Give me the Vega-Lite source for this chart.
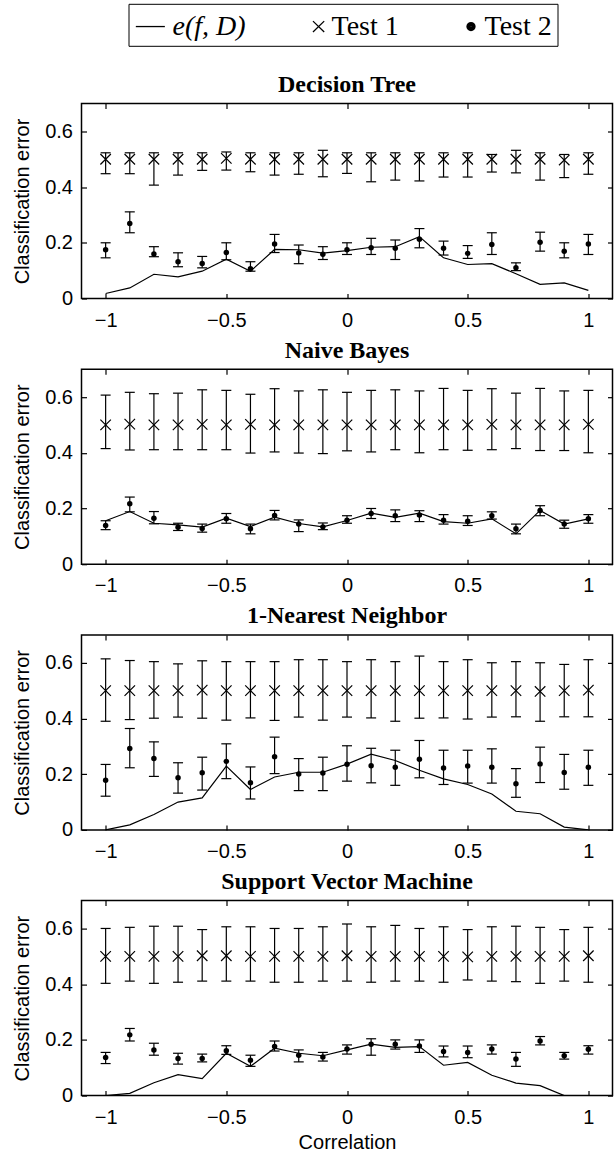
{
  "$schema": "https://vega.github.io/schema/vega-lite/v6.json",
  "background": "white",
  "padding": {"left": 11.5, "top": 2.5, "right": 2, "bottom": 2},
  "datasets": {
    "d": [
      {"model":"DT","corr":-1,"e":0.018,"t1":0.5,"t1lo":0.448,"t1hi":0.523,"t2":0.175,"t2lo":0.146,"t2hi":0.2},
      {"model":"DT","corr":-0.9,"e":0.038,"t1":0.5,"t1lo":0.448,"t1hi":0.523,"t2":0.269,"t2lo":0.236,"t2hi":0.311},
      {"model":"DT","corr":-0.8,"e":0.087,"t1":0.5,"t1lo":0.407,"t1hi":0.523,"t2":0.16,"t2lo":0.15,"t2hi":0.186},
      {"model":"DT","corr":-0.7,"e":0.078,"t1":0.5,"t1lo":0.443,"t1hi":0.523,"t2":0.132,"t2lo":0.114,"t2hi":0.164},
      {"model":"DT","corr":-0.6,"e":0.098,"t1":0.5,"t1lo":0.46,"t1hi":0.523,"t2":0.126,"t2lo":0.11,"t2hi":0.151},
      {"model":"DT","corr":-0.5,"e":0.141,"t1":0.503,"t1lo":0.461,"t1hi":0.526,"t2":0.165,"t2lo":0.139,"t2hi":0.2},
      {"model":"DT","corr":-0.4,"e":0.098,"t1":0.5,"t1lo":0.455,"t1hi":0.523,"t2":0.107,"t2lo":0.098,"t2hi":0.132},
      {"model":"DT","corr":-0.3,"e":0.176,"t1":0.5,"t1lo":0.443,"t1hi":0.523,"t2":0.196,"t2lo":0.165,"t2hi":0.23},
      {"model":"DT","corr":-0.2,"e":0.175,"t1":0.5,"t1lo":0.446,"t1hi":0.523,"t2":0.163,"t2lo":0.125,"t2hi":0.192},
      {"model":"DT","corr":-0.1,"e":0.163,"t1":0.5,"t1lo":0.437,"t1hi":0.532,"t2":0.159,"t2lo":0.14,"t2hi":0.186},
      {"model":"DT","corr":0,"e":0.172,"t1":0.5,"t1lo":0.449,"t1hi":0.523,"t2":0.175,"t2lo":0.158,"t2hi":0.2},
      {"model":"DT","corr":0.1,"e":0.184,"t1":0.5,"t1lo":0.419,"t1hi":0.523,"t2":0.182,"t2lo":0.158,"t2hi":0.216},
      {"model":"DT","corr":0.2,"e":0.186,"t1":0.5,"t1lo":0.425,"t1hi":0.523,"t2":0.18,"t2lo":0.14,"t2hi":0.21},
      {"model":"DT","corr":0.3,"e":0.222,"t1":0.5,"t1lo":0.422,"t1hi":0.523,"t2":0.213,"t2lo":0.182,"t2hi":0.251},
      {"model":"DT","corr":0.4,"e":0.146,"t1":0.5,"t1lo":0.436,"t1hi":0.523,"t2":0.18,"t2lo":0.156,"t2hi":0.206},
      {"model":"DT","corr":0.5,"e":0.122,"t1":0.5,"t1lo":0.436,"t1hi":0.523,"t2":0.162,"t2lo":0.144,"t2hi":0.19},
      {"model":"DT","corr":0.6,"e":0.125,"t1":0.5,"t1lo":0.454,"t1hi":0.517,"t2":0.194,"t2lo":0.158,"t2hi":0.236},
      {"model":"DT","corr":0.7,"e":0.089,"t1":0.5,"t1lo":0.451,"t1hi":0.532,"t2":0.11,"t2lo":0.1,"t2hi":0.128},
      {"model":"DT","corr":0.8,"e":0.051,"t1":0.5,"t1lo":0.425,"t1hi":0.523,"t2":0.202,"t2lo":0.17,"t2hi":0.238},
      {"model":"DT","corr":0.9,"e":0.056,"t1":0.497,"t1lo":0.434,"t1hi":0.517,"t2":0.17,"t2lo":0.146,"t2hi":0.2},
      {"model":"DT","corr":1,"e":0.029,"t1":0.5,"t1lo":0.446,"t1hi":0.523,"t2":0.196,"t2lo":0.158,"t2hi":0.23},

      {"model":"NB","corr":-1,"e":0.156,"t1":0.5,"t1lo":0.415,"t1hi":0.607,"t2":0.139,"t2lo":0.124,"t2hi":0.156},
      {"model":"NB","corr":-0.9,"e":0.189,"t1":0.503,"t1lo":0.41,"t1hi":0.617,"t2":0.217,"t2lo":0.188,"t2hi":0.241},
      {"model":"NB","corr":-0.8,"e":0.147,"t1":0.5,"t1lo":0.411,"t1hi":0.612,"t2":0.165,"t2lo":0.145,"t2hi":0.189},
      {"model":"NB","corr":-0.7,"e":0.141,"t1":0.5,"t1lo":0.411,"t1hi":0.614,"t2":0.133,"t2lo":0.121,"t2hi":0.147},
      {"model":"NB","corr":-0.6,"e":0.133,"t1":0.502,"t1lo":0.411,"t1hi":0.626,"t2":0.128,"t2lo":0.115,"t2hi":0.144},
      {"model":"NB","corr":-0.5,"e":0.165,"t1":0.5,"t1lo":0.411,"t1hi":0.624,"t2":0.163,"t2lo":0.147,"t2hi":0.182},
      {"model":"NB","corr":-0.4,"e":0.135,"t1":0.502,"t1lo":0.399,"t1hi":0.61,"t2":0.127,"t2lo":0.109,"t2hi":0.144},
      {"model":"NB","corr":-0.3,"e":0.169,"t1":0.5,"t1lo":0.403,"t1hi":0.63,"t2":0.175,"t2lo":0.159,"t2hi":0.193},
      {"model":"NB","corr":-0.2,"e":0.146,"t1":0.5,"t1lo":0.399,"t1hi":0.622,"t2":0.144,"t2lo":0.117,"t2hi":0.159},
      {"model":"NB","corr":-0.1,"e":0.134,"t1":0.5,"t1lo":0.397,"t1hi":0.626,"t2":0.134,"t2lo":0.124,"t2hi":0.148},
      {"model":"NB","corr":0,"e":0.157,"t1":0.5,"t1lo":0.407,"t1hi":0.617,"t2":0.158,"t2lo":0.147,"t2hi":0.174},
      {"model":"NB","corr":0.1,"e":0.183,"t1":0.5,"t1lo":0.403,"t1hi":0.624,"t2":0.182,"t2lo":0.164,"t2hi":0.2},
      {"model":"NB","corr":0.2,"e":0.168,"t1":0.5,"t1lo":0.411,"t1hi":0.626,"t2":0.174,"t2lo":0.153,"t2hi":0.195},
      {"model":"NB","corr":0.3,"e":0.183,"t1":0.5,"t1lo":0.4,"t1hi":0.622,"t2":0.177,"t2lo":0.153,"t2hi":0.192},
      {"model":"NB","corr":0.4,"e":0.153,"t1":0.5,"t1lo":0.411,"t1hi":0.631,"t2":0.158,"t2lo":0.144,"t2hi":0.178},
      {"model":"NB","corr":0.5,"e":0.147,"t1":0.5,"t1lo":0.409,"t1hi":0.624,"t2":0.154,"t2lo":0.139,"t2hi":0.174},
      {"model":"NB","corr":0.6,"e":0.163,"t1":0.502,"t1lo":0.411,"t1hi":0.63,"t2":0.174,"t2lo":0.162,"t2hi":0.188},
      {"model":"NB","corr":0.7,"e":0.109,"t1":0.5,"t1lo":0.415,"t1hi":0.614,"t2":0.127,"t2lo":0.109,"t2hi":0.144},
      {"model":"NB","corr":0.8,"e":0.193,"t1":0.5,"t1lo":0.408,"t1hi":0.631,"t2":0.193,"t2lo":0.174,"t2hi":0.21},
      {"model":"NB","corr":0.9,"e":0.144,"t1":0.5,"t1lo":0.408,"t1hi":0.622,"t2":0.144,"t2lo":0.129,"t2hi":0.158},
      {"model":"NB","corr":1,"e":0.163,"t1":0.502,"t1lo":0.4,"t1hi":0.624,"t2":0.163,"t2lo":0.147,"t2hi":0.178},

      {"model":"NN","corr":-1,"e":0.0,"t1":0.5,"t1lo":0.39,"t1hi":0.614,"t2":0.178,"t2lo":0.121,"t2hi":0.235},
      {"model":"NN","corr":-0.9,"e":0.018,"t1":0.5,"t1lo":0.396,"t1hi":0.608,"t2":0.292,"t2lo":0.223,"t2hi":0.364},
      {"model":"NN","corr":-0.8,"e":0.055,"t1":0.5,"t1lo":0.401,"t1hi":0.604,"t2":0.256,"t2lo":0.192,"t2hi":0.316},
      {"model":"NN","corr":-0.7,"e":0.1,"t1":0.5,"t1lo":0.405,"t1hi":0.596,"t2":0.187,"t2lo":0.132,"t2hi":0.241},
      {"model":"NN","corr":-0.6,"e":0.115,"t1":0.502,"t1lo":0.401,"t1hi":0.607,"t2":0.205,"t2lo":0.143,"t2hi":0.261},
      {"model":"NN","corr":-0.5,"e":0.229,"t1":0.5,"t1lo":0.394,"t1hi":0.604,"t2":0.246,"t2lo":0.184,"t2hi":0.309},
      {"model":"NN","corr":-0.4,"e":0.145,"t1":0.5,"t1lo":0.402,"t1hi":0.604,"t2":0.169,"t2lo":0.111,"t2hi":0.226},
      {"model":"NN","corr":-0.3,"e":0.19,"t1":0.5,"t1lo":0.393,"t1hi":0.604,"t2":0.263,"t2lo":0.202,"t2hi":0.333},
      {"model":"NN","corr":-0.2,"e":0.207,"t1":0.5,"t1lo":0.405,"t1hi":0.611,"t2":0.201,"t2lo":0.141,"t2hi":0.256},
      {"model":"NN","corr":-0.1,"e":0.207,"t1":0.5,"t1lo":0.394,"t1hi":0.611,"t2":0.204,"t2lo":0.141,"t2hi":0.261},
      {"model":"NN","corr":0,"e":0.236,"t1":0.5,"t1lo":0.405,"t1hi":0.604,"t2":0.236,"t2lo":0.175,"t2hi":0.302},
      {"model":"NN","corr":0.1,"e":0.272,"t1":0.5,"t1lo":0.402,"t1hi":0.611,"t2":0.23,"t2lo":0.169,"t2hi":0.293},
      {"model":"NN","corr":0.2,"e":0.249,"t1":0.5,"t1lo":0.39,"t1hi":0.604,"t2":0.225,"t2lo":0.16,"t2hi":0.286},
      {"model":"NN","corr":0.3,"e":0.214,"t1":0.5,"t1lo":0.401,"t1hi":0.624,"t2":0.254,"t2lo":0.187,"t2hi":0.321},
      {"model":"NN","corr":0.4,"e":0.183,"t1":0.5,"t1lo":0.402,"t1hi":0.604,"t2":0.222,"t2lo":0.163,"t2hi":0.286},
      {"model":"NN","corr":0.5,"e":0.163,"t1":0.5,"t1lo":0.398,"t1hi":0.611,"t2":0.229,"t2lo":0.168,"t2hi":0.286},
      {"model":"NN","corr":0.6,"e":0.129,"t1":0.5,"t1lo":0.405,"t1hi":0.6,"t2":0.225,"t2lo":0.168,"t2hi":0.291},
      {"model":"NN","corr":0.7,"e":0.067,"t1":0.5,"t1lo":0.406,"t1hi":0.604,"t2":0.166,"t2lo":0.117,"t2hi":0.22},
      {"model":"NN","corr":0.8,"e":0.058,"t1":0.497,"t1lo":0.39,"t1hi":0.6,"t2":0.237,"t2lo":0.17,"t2hi":0.297},
      {"model":"NN","corr":0.9,"e":0.01,"t1":0.5,"t1lo":0.406,"t1hi":0.594,"t2":0.206,"t2lo":0.146,"t2hi":0.271},
      {"model":"NN","corr":1,"e":0.0,"t1":0.502,"t1lo":0.406,"t1hi":0.611,"t2":0.225,"t2lo":0.16,"t2hi":0.286},

      {"model":"SVM","corr":-1,"e":0.0,"t1":0.5,"t1lo":0.403,"t1hi":0.6,"t2":0.137,"t2lo":0.115,"t2hi":0.155},
      {"model":"SVM","corr":-0.9,"e":0.008,"t1":0.5,"t1lo":0.411,"t1hi":0.604,"t2":0.218,"t2lo":0.196,"t2hi":0.241},
      {"model":"SVM","corr":-0.8,"e":0.046,"t1":0.5,"t1lo":0.403,"t1hi":0.608,"t2":0.164,"t2lo":0.145,"t2hi":0.188},
      {"model":"SVM","corr":-0.7,"e":0.075,"t1":0.5,"t1lo":0.407,"t1hi":0.608,"t2":0.133,"t2lo":0.113,"t2hi":0.152},
      {"model":"SVM","corr":-0.6,"e":0.061,"t1":0.502,"t1lo":0.411,"t1hi":0.596,"t2":0.133,"t2lo":0.121,"t2hi":0.149},
      {"model":"SVM","corr":-0.5,"e":0.152,"t1":0.502,"t1lo":0.411,"t1hi":0.606,"t2":0.161,"t2lo":0.148,"t2hi":0.179},
      {"model":"SVM","corr":-0.4,"e":0.105,"t1":0.5,"t1lo":0.411,"t1hi":0.606,"t2":0.127,"t2lo":0.105,"t2hi":0.145},
      {"model":"SVM","corr":-0.3,"e":0.17,"t1":0.5,"t1lo":0.407,"t1hi":0.6,"t2":0.176,"t2lo":0.16,"t2hi":0.196},
      {"model":"SVM","corr":-0.2,"e":0.152,"t1":0.5,"t1lo":0.407,"t1hi":0.6,"t2":0.145,"t2lo":0.121,"t2hi":0.164},
      {"model":"SVM","corr":-0.1,"e":0.143,"t1":0.5,"t1lo":0.411,"t1hi":0.606,"t2":0.139,"t2lo":0.124,"t2hi":0.155},
      {"model":"SVM","corr":0,"e":0.164,"t1":0.502,"t1lo":0.411,"t1hi":0.616,"t2":0.167,"t2lo":0.149,"t2hi":0.182},
      {"model":"SVM","corr":0.1,"e":0.185,"t1":0.5,"t1lo":0.407,"t1hi":0.606,"t2":0.184,"t2lo":0.145,"t2hi":0.204},
      {"model":"SVM","corr":0.2,"e":0.173,"t1":0.5,"t1lo":0.411,"t1hi":0.611,"t2":0.184,"t2lo":0.167,"t2hi":0.2},
      {"model":"SVM","corr":0.3,"e":0.176,"t1":0.5,"t1lo":0.411,"t1hi":0.6,"t2":0.178,"t2lo":0.155,"t2hi":0.2},
      {"model":"SVM","corr":0.4,"e":0.109,"t1":0.5,"t1lo":0.407,"t1hi":0.606,"t2":0.158,"t2lo":0.139,"t2hi":0.178},
      {"model":"SVM","corr":0.5,"e":0.119,"t1":0.498,"t1lo":0.415,"t1hi":0.596,"t2":0.155,"t2lo":0.136,"t2hi":0.178},
      {"model":"SVM","corr":0.6,"e":0.073,"t1":0.5,"t1lo":0.411,"t1hi":0.606,"t2":0.167,"t2lo":0.149,"t2hi":0.182},
      {"model":"SVM","corr":0.7,"e":0.045,"t1":0.5,"t1lo":0.409,"t1hi":0.608,"t2":0.131,"t2lo":0.105,"t2hi":0.155},
      {"model":"SVM","corr":0.8,"e":0.036,"t1":0.5,"t1lo":0.403,"t1hi":0.604,"t2":0.196,"t2lo":0.182,"t2hi":0.212},
      {"model":"SVM","corr":0.9,"e":0.0,"t1":0.5,"t1lo":0.411,"t1hi":0.596,"t2":0.143,"t2lo":0.131,"t2hi":0.155},
      {"model":"SVM","corr":1,"e":-0.03,"t1":0.502,"t1lo":0.407,"t1hi":0.604,"t2":0.166,"t2lo":0.149,"t2hi":0.179}
    ]
  },
  "data": {"name": "d"},
  "bounds": "flush",
  "spacing": 70.7,
  "vconcat": [
    {
      "transform": [{"filter": "datum.model == 'DT'"}],
      "title": {"text": "Decision Tree"},
      "width": 531, "height": 195,
      "resolve": {"axis": {"x": "independent", "y": "independent"}},
      "layer": [
        {"mark": {"type": "line", "color": "black", "strokeWidth": 1.2, "clip": true},
         "encoding": {
           "x": {"field": "corr", "type": "quantitative", "scale": {"domain": [-1.1, 1.1], "nice": false, "zero": false}, "axis": {"orient": "bottom", "values": [-1, -0.5, 0, 0.5, 1], "format": "~g", "title": null}},
           "y": {"field": "e", "type": "quantitative", "scale": {"domain": [0, 0.7], "nice": false, "zero": false}, "axis": {"orient": "left", "values": [0, 0.2, 0.4, 0.6], "format": "~g", "title": "Classification error"}}}},
        {"mark": {"type": "rule", "color": "black", "strokeWidth": 1.2},
         "encoding": {
           "x": {"field": "corr", "type": "quantitative", "scale": {"domain": [-1.1, 1.1], "nice": false, "zero": false}, "axis": {"orient": "top", "values": [-1, -0.5, 0, 0.5, 1], "labels": false, "title": null}},
           "y": {"field": "t1lo", "type": "quantitative", "scale": {"domain": [0, 0.7], "nice": false, "zero": false}, "axis": {"orient": "right", "values": [0, 0.2, 0.4, 0.6], "labels": false, "title": null}},
           "y2": {"field": "t1hi"}}},
        {"mark": {"type": "rule", "color": "black", "strokeWidth": 1.2},
         "encoding": {
           "x": {"field": "corr", "type": "quantitative", "axis": null},
           "y": {"field": "t2lo", "type": "quantitative", "axis": null},
           "y2": {"field": "t2hi"}}},
        {"transform": [{"fold": ["t1lo", "t1hi", "t2lo", "t2hi"], "as": ["k", "v"]}],
         "mark": {"type": "point", "shape": "M-1,0L1,0", "size": 100, "filled": false, "color": "black", "strokeWidth": 1.2, "opacity": 1},
         "encoding": {
           "x": {"field": "corr", "type": "quantitative", "axis": null},
           "y": {"field": "v", "type": "quantitative", "axis": null}}},
        {"mark": {"type": "point", "shape": "M-1,-1L1,1M-1,1L1,-1", "size": 110, "filled": false, "color": "black", "strokeWidth": 1.2, "opacity": 1},
         "encoding": {
           "x": {"field": "corr", "type": "quantitative", "axis": null},
           "y": {"field": "t1", "type": "quantitative", "axis": null}}},
        {"mark": {"type": "point", "shape": "circle", "size": 30, "filled": true, "color": "black", "opacity": 1},
         "encoding": {
           "x": {"field": "corr", "type": "quantitative", "axis": null},
           "y": {"field": "t2", "type": "quantitative", "axis": null}}},
        {"transform": [{"fold": ["e", "t1", "t2"], "as": ["key", "val"]}],
         "mark": {"type": "point", "opacity": 0, "filled": false, "color": "black", "strokeWidth": 1.3},
         "encoding": {
           "x": {"field": "corr", "type": "quantitative", "axis": null},
           "y": {"field": "val", "type": "quantitative", "axis": null},
           "shape": {"field": "key", "type": "nominal",
             "scale": {"domain": ["e", "t1", "t2"], "range": [
               "M-0.92,0L0.84,0",
               "M0.18,-0.33L0.86,0.33M0.18,0.33L0.86,-0.33",
               "M0.243,0A0.242,0.242,0,1,0,0.727,0A0.242,0.242,0,1,0,0.243,0ZM0.303,0A0.182,0.182,0,1,0,0.667,0A0.182,0.182,0,1,0,0.303,0ZM0.364,0A0.121,0.121,0,1,0,0.606,0A0.121,0.121,0,1,0,0.364,0ZM0.424,0A0.061,0.061,0,1,0,0.546,0A0.061,0.061,0,1,0,0.424,0ZM0.465,0A0.02,0.02,0,1,0,0.505,0A0.02,0.02,0,1,0,0.465,0Z"]},
             "legend": {
               "orient": "none", "legendX": 47, "legendY": -99.7, "direction": "horizontal", "title": null,
               "labelExpr": "datum.value == 'e' ? 'e(f, D)' : datum.value == 't1' ? 'Test 1' : 'Test 2'",
               "symbolSize": 1089, "symbolStrokeWidth": 1.3, "symbolStrokeColor": "black", "symbolFillColor": "black", "symbolOpacity": 1,
               "labelFont": "Liberation Serif", "labelFontSize": 28, "labelColor": "black", "labelOffset": 4, "labelLimit": 0,
               "labelFontStyle": {"expr": "datum.value == 'e' ? 'italic' : 'normal'"},
               "columnPadding": 46, "padding": 5, "strokeColor": "black"
             }}}}
      ]
    },
    {
      "transform": [{"filter": "datum.model == 'NB'"}],
      "title": {"text": "Naive Bayes"},
      "width": 531, "height": 195,
      "resolve": {"axis": {"x": "independent", "y": "independent"}},
      "layer": [
        {"mark": {"type": "line", "color": "black", "strokeWidth": 1.2, "clip": true},
         "encoding": {
           "x": {"field": "corr", "type": "quantitative", "scale": {"domain": [-1.1, 1.1], "nice": false, "zero": false}, "axis": {"orient": "bottom", "values": [-1, -0.5, 0, 0.5, 1], "format": "~g", "title": null}},
           "y": {"field": "e", "type": "quantitative", "scale": {"domain": [0, 0.7], "nice": false, "zero": false}, "axis": {"orient": "left", "values": [0, 0.2, 0.4, 0.6], "format": "~g", "title": "Classification error"}}}},
        {"mark": {"type": "rule", "color": "black", "strokeWidth": 1.2},
         "encoding": {
           "x": {"field": "corr", "type": "quantitative", "scale": {"domain": [-1.1, 1.1], "nice": false, "zero": false}, "axis": {"orient": "top", "values": [-1, -0.5, 0, 0.5, 1], "labels": false, "title": null}},
           "y": {"field": "t1lo", "type": "quantitative", "scale": {"domain": [0, 0.7], "nice": false, "zero": false}, "axis": {"orient": "right", "values": [0, 0.2, 0.4, 0.6], "labels": false, "title": null}},
           "y2": {"field": "t1hi"}}},
        {"mark": {"type": "rule", "color": "black", "strokeWidth": 1.2},
         "encoding": {
           "x": {"field": "corr", "type": "quantitative", "axis": null},
           "y": {"field": "t2lo", "type": "quantitative", "axis": null},
           "y2": {"field": "t2hi"}}},
        {"transform": [{"fold": ["t1lo", "t1hi", "t2lo", "t2hi"], "as": ["k", "v"]}],
         "mark": {"type": "point", "shape": "M-1,0L1,0", "size": 100, "filled": false, "color": "black", "strokeWidth": 1.2, "opacity": 1},
         "encoding": {
           "x": {"field": "corr", "type": "quantitative", "axis": null},
           "y": {"field": "v", "type": "quantitative", "axis": null}}},
        {"mark": {"type": "point", "shape": "M-1,-1L1,1M-1,1L1,-1", "size": 110, "filled": false, "color": "black", "strokeWidth": 1.2, "opacity": 1},
         "encoding": {
           "x": {"field": "corr", "type": "quantitative", "axis": null},
           "y": {"field": "t1", "type": "quantitative", "axis": null}}},
        {"mark": {"type": "point", "shape": "circle", "size": 30, "filled": true, "color": "black", "opacity": 1},
         "encoding": {
           "x": {"field": "corr", "type": "quantitative", "axis": null},
           "y": {"field": "t2", "type": "quantitative", "axis": null}}}
      ]
    },
    {
      "transform": [{"filter": "datum.model == 'NN'"}],
      "title": {"text": "1-Nearest Neighbor"},
      "width": 531, "height": 195,
      "resolve": {"axis": {"x": "independent", "y": "independent"}},
      "layer": [
        {"mark": {"type": "line", "color": "black", "strokeWidth": 1.2, "clip": true},
         "encoding": {
           "x": {"field": "corr", "type": "quantitative", "scale": {"domain": [-1.1, 1.1], "nice": false, "zero": false}, "axis": {"orient": "bottom", "values": [-1, -0.5, 0, 0.5, 1], "format": "~g", "title": null}},
           "y": {"field": "e", "type": "quantitative", "scale": {"domain": [0, 0.7], "nice": false, "zero": false}, "axis": {"orient": "left", "values": [0, 0.2, 0.4, 0.6], "format": "~g", "title": "Classification error"}}}},
        {"mark": {"type": "rule", "color": "black", "strokeWidth": 1.2},
         "encoding": {
           "x": {"field": "corr", "type": "quantitative", "scale": {"domain": [-1.1, 1.1], "nice": false, "zero": false}, "axis": {"orient": "top", "values": [-1, -0.5, 0, 0.5, 1], "labels": false, "title": null}},
           "y": {"field": "t1lo", "type": "quantitative", "scale": {"domain": [0, 0.7], "nice": false, "zero": false}, "axis": {"orient": "right", "values": [0, 0.2, 0.4, 0.6], "labels": false, "title": null}},
           "y2": {"field": "t1hi"}}},
        {"mark": {"type": "rule", "color": "black", "strokeWidth": 1.2},
         "encoding": {
           "x": {"field": "corr", "type": "quantitative", "axis": null},
           "y": {"field": "t2lo", "type": "quantitative", "axis": null},
           "y2": {"field": "t2hi"}}},
        {"transform": [{"fold": ["t1lo", "t1hi", "t2lo", "t2hi"], "as": ["k", "v"]}],
         "mark": {"type": "point", "shape": "M-1,0L1,0", "size": 100, "filled": false, "color": "black", "strokeWidth": 1.2, "opacity": 1},
         "encoding": {
           "x": {"field": "corr", "type": "quantitative", "axis": null},
           "y": {"field": "v", "type": "quantitative", "axis": null}}},
        {"mark": {"type": "point", "shape": "M-1,-1L1,1M-1,1L1,-1", "size": 110, "filled": false, "color": "black", "strokeWidth": 1.2, "opacity": 1},
         "encoding": {
           "x": {"field": "corr", "type": "quantitative", "axis": null},
           "y": {"field": "t1", "type": "quantitative", "axis": null}}},
        {"mark": {"type": "point", "shape": "circle", "size": 30, "filled": true, "color": "black", "opacity": 1},
         "encoding": {
           "x": {"field": "corr", "type": "quantitative", "axis": null},
           "y": {"field": "t2", "type": "quantitative", "axis": null}}}
      ]
    },
    {
      "transform": [{"filter": "datum.model == 'SVM'"}],
      "title": {"text": "Support Vector Machine"},
      "width": 531, "height": 195,
      "resolve": {"axis": {"x": "independent", "y": "independent"}},
      "layer": [
        {"mark": {"type": "line", "color": "black", "strokeWidth": 1.2, "clip": true},
         "encoding": {
           "x": {"field": "corr", "type": "quantitative", "scale": {"domain": [-1.1, 1.1], "nice": false, "zero": false}, "axis": {"orient": "bottom", "values": [-1, -0.5, 0, 0.5, 1], "format": "~g", "title": "Correlation"}},
           "y": {"field": "e", "type": "quantitative", "scale": {"domain": [0, 0.7], "nice": false, "zero": false}, "axis": {"orient": "left", "values": [0, 0.2, 0.4, 0.6], "format": "~g", "title": "Classification error"}}}},
        {"mark": {"type": "rule", "color": "black", "strokeWidth": 1.2},
         "encoding": {
           "x": {"field": "corr", "type": "quantitative", "scale": {"domain": [-1.1, 1.1], "nice": false, "zero": false}, "axis": {"orient": "top", "values": [-1, -0.5, 0, 0.5, 1], "labels": false, "title": null}},
           "y": {"field": "t1lo", "type": "quantitative", "scale": {"domain": [0, 0.7], "nice": false, "zero": false}, "axis": {"orient": "right", "values": [0, 0.2, 0.4, 0.6], "labels": false, "title": null}},
           "y2": {"field": "t1hi"}}},
        {"mark": {"type": "rule", "color": "black", "strokeWidth": 1.2},
         "encoding": {
           "x": {"field": "corr", "type": "quantitative", "axis": null},
           "y": {"field": "t2lo", "type": "quantitative", "axis": null},
           "y2": {"field": "t2hi"}}},
        {"transform": [{"fold": ["t1lo", "t1hi", "t2lo", "t2hi"], "as": ["k", "v"]}],
         "mark": {"type": "point", "shape": "M-1,0L1,0", "size": 100, "filled": false, "color": "black", "strokeWidth": 1.2, "opacity": 1},
         "encoding": {
           "x": {"field": "corr", "type": "quantitative", "axis": null},
           "y": {"field": "v", "type": "quantitative", "axis": null}}},
        {"mark": {"type": "point", "shape": "M-1,-1L1,1M-1,1L1,-1", "size": 110, "filled": false, "color": "black", "strokeWidth": 1.2, "opacity": 1},
         "encoding": {
           "x": {"field": "corr", "type": "quantitative", "axis": null},
           "y": {"field": "t1", "type": "quantitative", "axis": null}}},
        {"mark": {"type": "point", "shape": "circle", "size": 30, "filled": true, "color": "black", "opacity": 1},
         "encoding": {
           "x": {"field": "corr", "type": "quantitative", "axis": null},
           "y": {"field": "t2", "type": "quantitative", "axis": null}}}
      ]
    }
  ],
  "config": {
    "view": {"stroke": "black", "strokeWidth": 1.5},
    "axis": {"domain": false, "grid": false, "ticks": true, "tickColor": "black", "tickWidth": 1.2, "tickSize": -5,
      "labelFont": "Liberation Sans", "labelFontSize": 20, "labelColor": "black",
      "titleFont": "Liberation Sans", "titleFontSize": 20, "titleFontWeight": "normal", "titleColor": "black"},
    "axisX": {"labelPadding": 16.5, "titlePadding": 5},
    "axisY": {"labelPadding": 14, "titlePadding": 12},
    "title": {"font": "Liberation Serif", "fontSize": 24, "fontWeight": "bold", "color": "black", "offset": 6}
  }
}
